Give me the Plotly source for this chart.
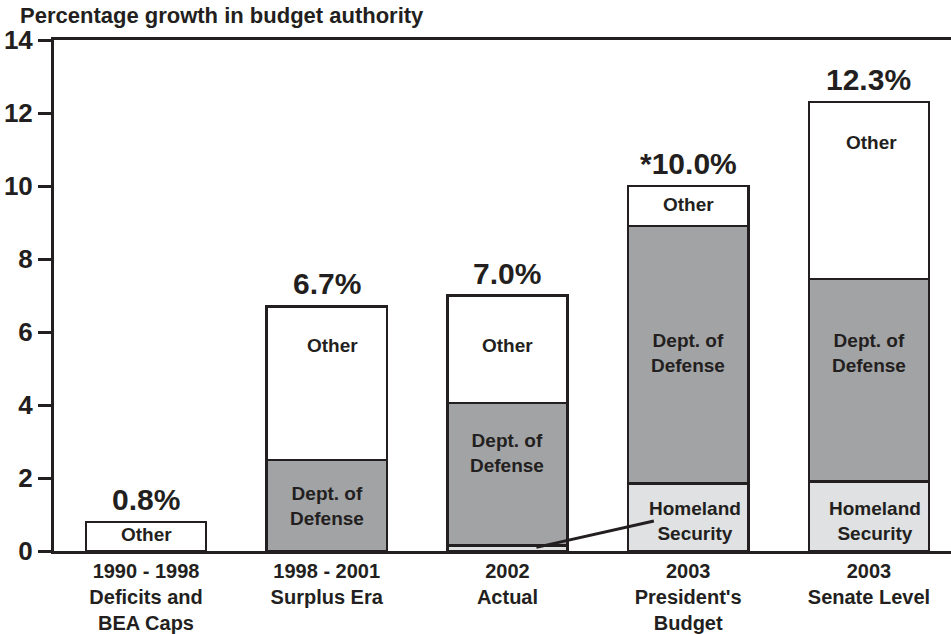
import plotly.graph_objects as go

categories = ["1990 - 1998<br>Deficits and<br>BEA Caps", "1998 - 2001<br>Surplus Era",
              "2002<br>Actual", "2003<br>President's<br>Budget", "2003<br>Senate Level"]
homeland = [0.0, 0.0, 0.15, 1.85, 1.9]
defense = [0.0, 2.5, 3.9, 7.05, 5.55]
other = [0.8, 4.2, 2.95, 1.1, 4.85]
total_labels = ["0.8%", "6.7%", "7.0%", "*10.0%", "12.3%"]

FONT = "Arial, 'Liberation Sans', sans-serif"
INK = "#231f20"
xs = list(range(len(categories)))
totals = [h + d + o for h, d, o in zip(homeland, defense, other)]

fig = go.Figure()
for name, vals, color in [("Homeland Security", homeland, "#e0e1e2"),
                          ("Dept. of Defense", defense, "#a2a3a5"),
                          ("Other", other, "#ffffff")]:
    fig.add_trace(go.Bar(x=xs, y=vals, name=name, width=0.665,
                         marker=dict(color=color, line=dict(color=INK, width=2.5)),
                         showlegend=False, hoverinfo="skip"))

ann = []
for i, t in enumerate(total_labels):
    ann.append(dict(x=xs[i], y=totals[i], text=t, showarrow=False, yanchor="bottom", yshift=4,
                    font=dict(family=FONT, size=30, color=INK, weight="bold")))

# segment label positions (data units)
seg_labels = [
    (0, 0.44, "Other", 0), (1, 5.62, "Other", 6), (2, 5.62, "Other", 0), (3, 9.48, "Other", 0), (4, 11.18, "Other", 3),
    (1, 1.23, "Dept. of<br>Defense", 0), (2, 2.68, "Dept. of<br>Defense", 0),
    (3, 5.42, "Dept. of<br>Defense", 0), (4, 5.42, "Dept. of<br>Defense", 0),
    (3, 0.82, "Homeland<br>Security", 7), (4, 0.82, "Homeland<br>Security", 6),
]
for xi, yv, txt, xsft in seg_labels:
    ann.append(dict(x=xi, y=yv, text=txt, showarrow=False, xshift=xsft,
                    font=dict(family=FONT, size=19, color=INK, weight="bold")))

ann.append(dict(xref="paper", yref="paper", x=-36/897, y=1, yanchor="bottom", xanchor="left", yshift=10,
                text="Percentage growth in budget authority", showarrow=False,
                font=dict(family=FONT, size=22, color=INK, weight="bold")))

fig.update_layout(
    width=951, height=634, margin=dict(l=54, r=0, t=40, b=83),
    paper_bgcolor="white", plot_bgcolor="white", barmode="stack",
    annotations=ann,
    shapes=[dict(type="line", xref="x", yref="y", x0=2.16, y0=0.1, x1=2.81, y1=0.82,
                 line=dict(color=INK, width=3))],
    xaxis=dict(range=[-0.509, 4.454], tickvals=xs, ticktext=categories, showgrid=False,
               showline=True, mirror=True, linecolor=INK, linewidth=3, ticks="", zeroline=False,
               automargin=False,
               tickfont=dict(family=FONT, size=20, color=INK, weight="bold")),
    yaxis=dict(range=[0, 14], dtick=2, showgrid=False, zeroline=False, showline=True,
               linecolor=INK, linewidth=3, ticks="outside", ticklen=13, tickwidth=3, tickcolor=INK,
               automargin=False,
               tickfont=dict(family=FONT, size=26, color=INK, weight="bold")),
)
fig.write_html("out.html")
